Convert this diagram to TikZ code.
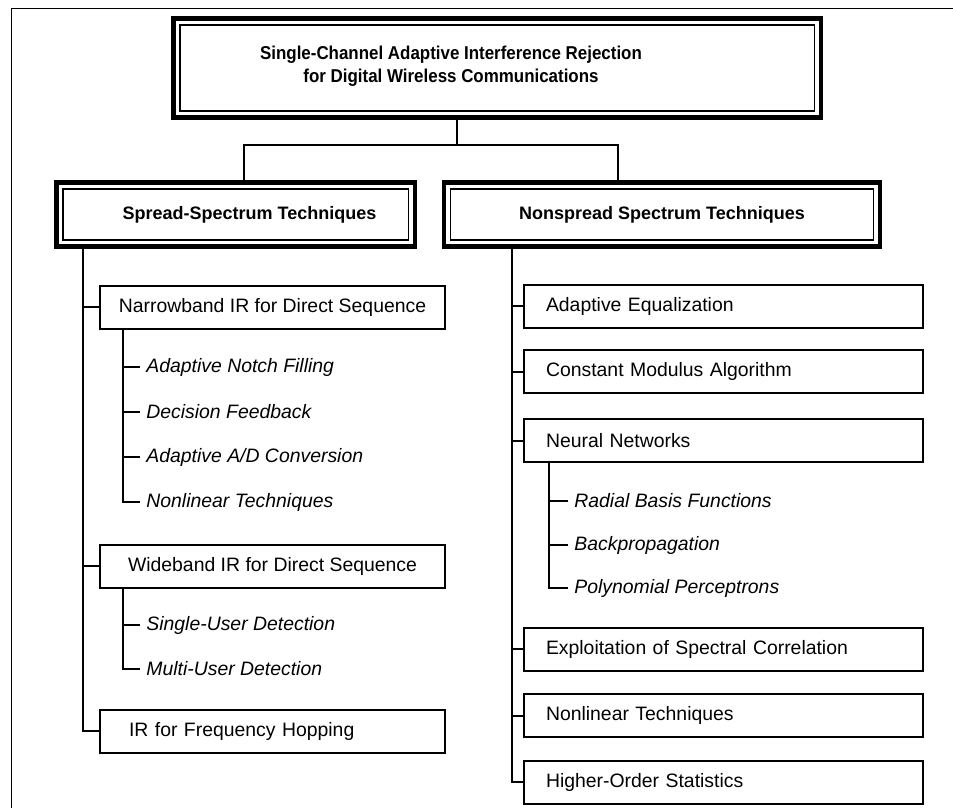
\documentclass[tikz,border=0pt]{standalone}
\usepackage{fontspec}
\setmainfont{Liberation Sans}
\newfontfamily\narrowsans[FakeStretch=0.91]{Liberation Sans}
\usetikzlibrary{calc}
\tikzset{%
  head/.style={draw, line width=2.25pt, outer sep=0pt, inner sep=0pt},% thick outer frame of a heading
  headtext/.style={font=\bfseries\fontsize{9}{11.5}\selectfont, align=center},
  titletext/.style={font=\narrowsans\bfseries\fontsize{9.3}{11.5}\selectfont, align=center},
  inset/.style={line width=0.6pt},% thin inner frame of a heading
  item/.style={draw, line width=1pt, outer sep=0pt, minimum height=21.5pt,
    font=\fontsize{9.7}{12}\selectfont},
  leftitem/.style={item, minimum width=172.5pt},
  rightitem/.style={item, text width=177.5pt, inner xsep=11pt, align=left},
  sub/.style={anchor=west, inner xsep=3pt, inner ysep=0pt,
    font=\itshape\fontsize{9.7}{12}\selectfont},% italic leaf
  tree/.style={line width=1pt}
}

\begin{document}
\begin{tikzpicture}[x=0.5pt, y=-0.5pt]
\useasboundingbox (0,0) rectangle (953,808);
\draw[line width=0.5pt] (11,808) -- (11,9) -- (953,9);

\node[head, minimum width=323.75pt, minimum height=49.5pt] (top) at (497.25,68) {};
\node[titletext] (title) at (451,66.5) {Single-Channel Adaptive Interference Rejection\\for Digital Wireless Communications};
\node[head, headtext, minimum width=179.25pt, minimum height=32pt] (spread) at (235.75,214.5) {\hspace*{13.75pt}Spread-Spectrum Techniques};
\node[head, headtext, minimum width=218pt, minimum height=32pt] (nonspread) at (662,214.5) {Nonspread Spectrum Techniques};
\foreach \h in {top,spread,nonspread}
  \draw[inset] ($(\h.north west)+(6.5,6.5)$) rectangle ($(\h.south east)+(-6.5,-6.5)$);

\coordinate (split) at (457,145);
\coordinate (lfoot) at (244,145);
\coordinate (rfoot) at (618,145);
\draw[tree] (top.south -| split) -- (split);
\draw[tree] (spread.north -| lfoot) -- (lfoot) -- (rfoot) -- (nonspread.north -| rfoot);

% spread spectrum branch
\node[leftitem] (narrow) at (272.5,307) {Narrowband IR for Direct Sequence};
\node[leftitem] (wide) at (272.5,566) {Wideband IR for Direct Sequence};
\node[leftitem, text width=143.5pt, inner xsep=14.5pt, align=left] (irfh) at (272.5,731) {IR for Frequency Hopping};
\node[sub] (anf) at (140,367) {Adaptive Notch Filling};
\node[sub] (dfb) at (140,412) {Decision Feedback};
\node[sub] (adc) at (140,457) {Adaptive A/D Conversion};
\node[sub] (nlt) at (140,502) {Nonlinear Techniques};
\node[sub] (sud) at (140,625) {Single-User Detection};
\node[sub] (mud) at (140,669) {Multi-User Detection};

\draw[tree] ($(spread.south west)+(26.5,0)$) |- (irfh.west);
\foreach \n in {narrow,wide}
  \draw[tree] (\n.west) -- ++(-17,0);
\draw[tree] ($(narrow.south west)+(23,0)$) |- (nlt.west);
\foreach \n in {anf,dfb,adc}
  \draw[tree] (\n.west) -- ++(-17,0);
\draw[tree] ($(wide.south west)+(23,0)$) |- (mud.west);
\draw[tree] (sud.west) -- ++(-17,0);

% nonspread branch
\node[rightitem] (ae) at (723.5,306) {Adaptive Equalization};
\node[rightitem] (cma) at (723.5,371.5) {Constant Modulus Algorithm};
\node[rightitem] (nn) at (723.5,440.5) {Neural Networks};
\node[rightitem] (esc) at (723.5,649) {Exploitation of Spectral Correlation};
\node[rightitem] (nlin) at (723.5,715.5) {Nonlinear Techniques};
\node[rightitem] (hos) at (723.5,782) {Higher-Order Statistics};
\node[sub] (rbf) at (568,501) {Radial Basis Functions};
\node[sub] (bp) at (568,545) {Backpropagation};
\node[sub] (pp) at (568,588) {Polynomial Perceptrons};

\draw[tree] ($(nonspread.south west)+(68,0)$) |- (hos.west);
\foreach \n in {ae,cma,nn,esc,nlin}
  \draw[tree] (\n.west) -- ++(-12,0);
\draw[tree] ($(nn.south west)+(25,0)$) |- (pp.west);
\foreach \n in {rbf,bp}
  \draw[tree] (\n.west) -- ++(-19,0);
\end{tikzpicture}
\end{document}
